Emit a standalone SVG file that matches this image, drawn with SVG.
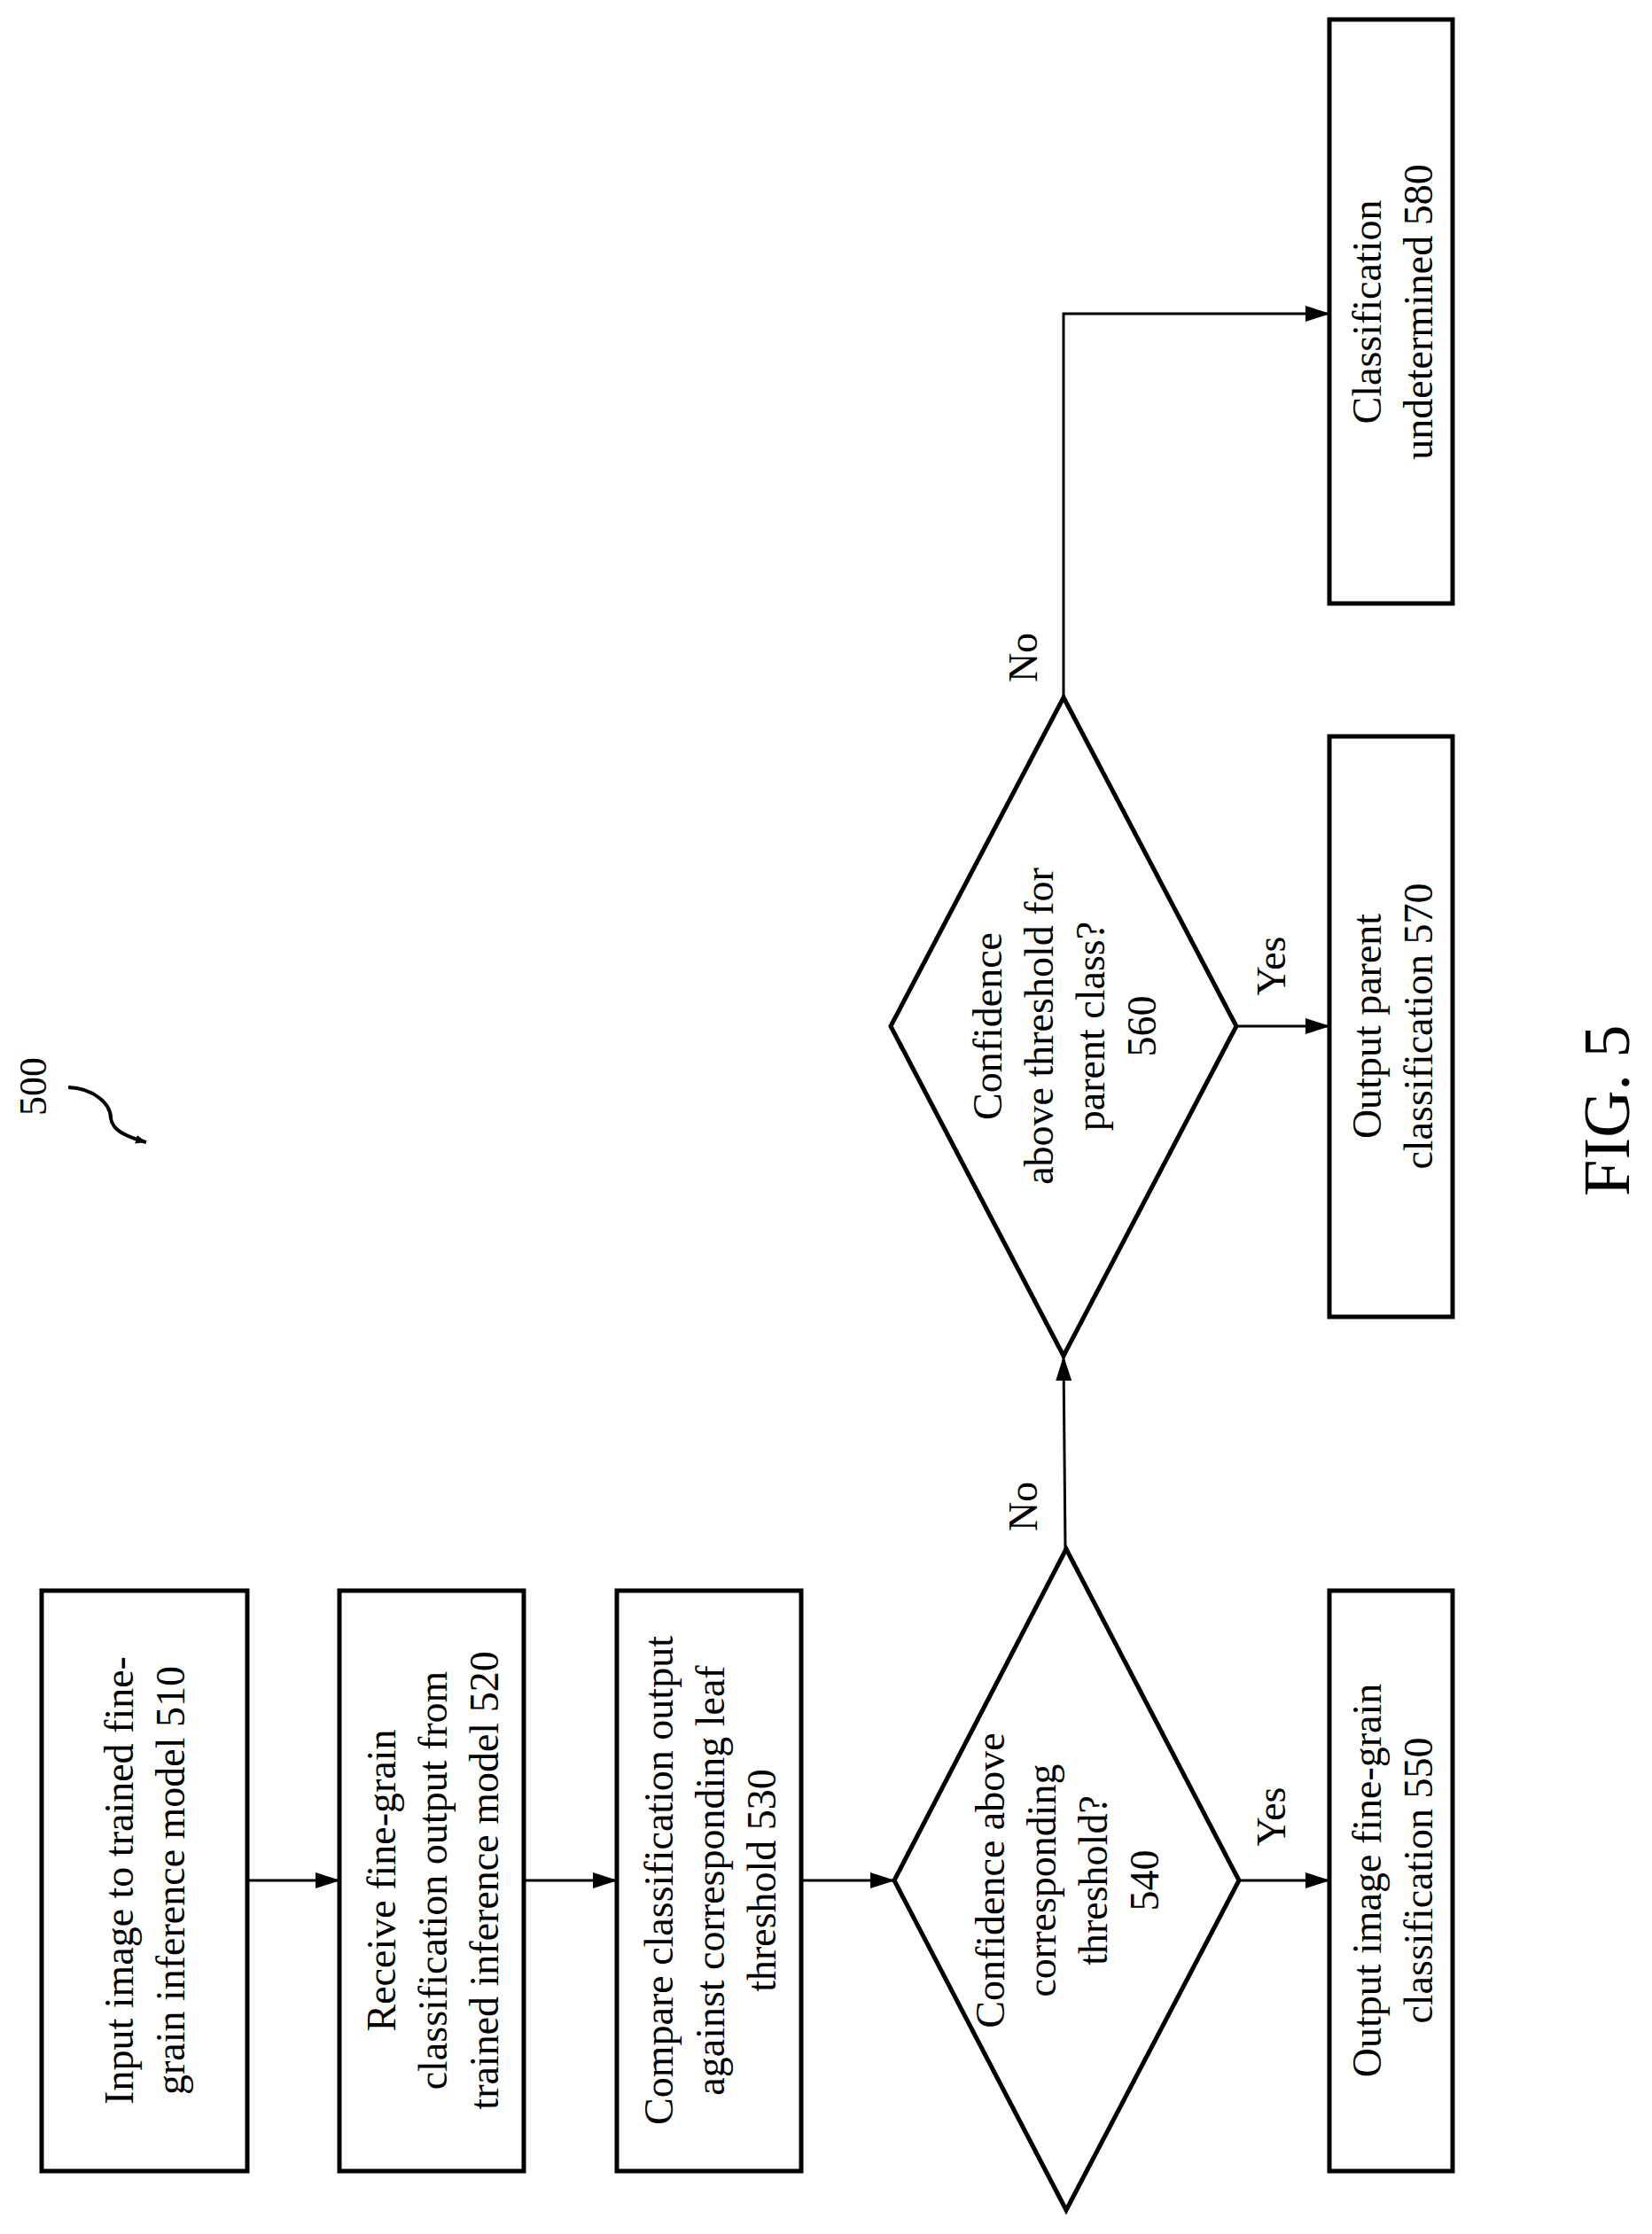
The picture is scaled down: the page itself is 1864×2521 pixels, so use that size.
<svg xmlns="http://www.w3.org/2000/svg" width="1864" height="2521" viewBox="0 0 1864 2521">
<style>
.b{fill:#fff;stroke:#000;stroke-width:5}
.c{fill:none;stroke:#000;stroke-width:3}
text{font-family:"Liberation Serif","Times New Roman",serif;font-size:46px;fill:#000;text-anchor:middle}
</style>
<defs>
<marker id="a" markerWidth="12" markerHeight="10" refX="12" refY="5" orient="auto" markerUnits="userSpaceOnUse" viewBox="0 0 12 10"><path d="M0,0 L12,5 L0,10 z" fill="#000"/></marker>
<marker id="A" markerWidth="28" markerHeight="18" refX="27" refY="9" orient="auto" markerUnits="userSpaceOnUse" viewBox="0 0 28 18"><path d="M0,0 L28,9 L0,18 z" fill="#000"/></marker>
</defs>
<rect width="1864" height="2521" fill="#fff"/>
<g id="connectors">
<line class="c" x1="279" y1="2122" x2="383" y2="2122" marker-end="url(#A)"/>
<line class="c" x1="591" y1="2122" x2="696" y2="2122" marker-end="url(#A)"/>
<line class="c" x1="904" y1="2122" x2="1009" y2="2122" marker-end="url(#A)"/>
<line class="c" x1="1398" y1="2122" x2="1500" y2="2122" marker-end="url(#A)"/>
<line class="c" x1="1202" y1="1748" x2="1200" y2="1531" marker-end="url(#A)"/>
<line class="c" x1="1395" y1="1158" x2="1500" y2="1158" marker-end="url(#A)"/>
<polyline class="c" points="1200,787 1200,354 1500,354" marker-end="url(#A)"/>
<text transform="translate(1170,1700) rotate(-90)">No</text>
<text transform="translate(1170,742) rotate(-90)">No</text>
<text transform="translate(1450,2050) rotate(-90)">Yes</text>
<text transform="translate(1450,1090) rotate(-90)">Yes</text>
</g>
<g id="n510"><rect class="b" x="47" y="1795" width="232" height="655"/>
<text transform="translate(162,2122) rotate(-90)"><tspan x="0" y="-12">Input image to trained fine-</tspan><tspan x="0" y="46">grain inference model 510</tspan></text></g>
<g id="n520"><rect class="b" x="383" y="1795" width="208" height="655"/>
<text transform="translate(487,2122) rotate(-90)"><tspan x="0" y="-41">Receive fine-grain</tspan><tspan x="0" y="17">classification output from</tspan><tspan x="0" y="75">trained inference model  520</tspan></text></g>
<g id="n530"><rect class="b" x="696" y="1795" width="208" height="655"/>
<text transform="translate(800,2122) rotate(-90)"><tspan x="0" y="-41">Compare classification output</tspan><tspan x="0" y="17">against corresponding leaf</tspan><tspan x="0" y="75">threshold 530</tspan></text></g>
<g id="n540"><polygon class="b" points="1203,1748 1398,2122 1203,2494 1009,2122"/>
<text transform="translate(1203,2122) rotate(-90)"><tspan x="0" y="-70">Confidence above</tspan><tspan x="0" y="-12">corresponding</tspan><tspan x="0" y="46">threshold?</tspan><tspan x="0" y="104">540</tspan></text></g>
<g id="n550"><rect class="b" x="1500" y="1795" width="139" height="655"/>
<text transform="translate(1570,2122) rotate(-90)"><tspan x="0" y="-12">Output image fine-grain</tspan><tspan x="0" y="46">classification 550</tspan></text></g>
<g id="n560"><polygon class="b" points="1200,787 1395,1158 1200,1530 1005,1158"/>
<text transform="translate(1200,1158) rotate(-90)"><tspan x="0" y="-70">Confidence</tspan><tspan x="0" y="-12">above threshold for</tspan><tspan x="0" y="46">parent class?</tspan><tspan x="0" y="104">560</tspan></text></g>
<g id="n570"><rect class="b" x="1500" y="831" width="139" height="655"/>
<text transform="translate(1570,1158) rotate(-90)"><tspan x="0" y="-12">Output parent</tspan><tspan x="0" y="46">classification 570</tspan></text></g>
<g id="n580"><rect class="b" x="1500" y="22" width="139" height="659"/>
<text transform="translate(1570,352) rotate(-90)"><tspan x="0" y="-12">Classification</tspan><tspan x="0" y="46">undetermined 580</tspan></text></g>
<g id="ref500">
<text transform="translate(52,1226) rotate(-90)" style="font-size:44px">500</text>
<path class="c" d="M77,1227 C105,1228 125,1245 125,1262 C127,1275 140,1282 165,1289" marker-end="url(#a)" style="stroke-width:4"/>
</g>
<text transform="translate(1838,1253) rotate(-90)" style="font-size:74px">FIG. 5</text>
</svg>
